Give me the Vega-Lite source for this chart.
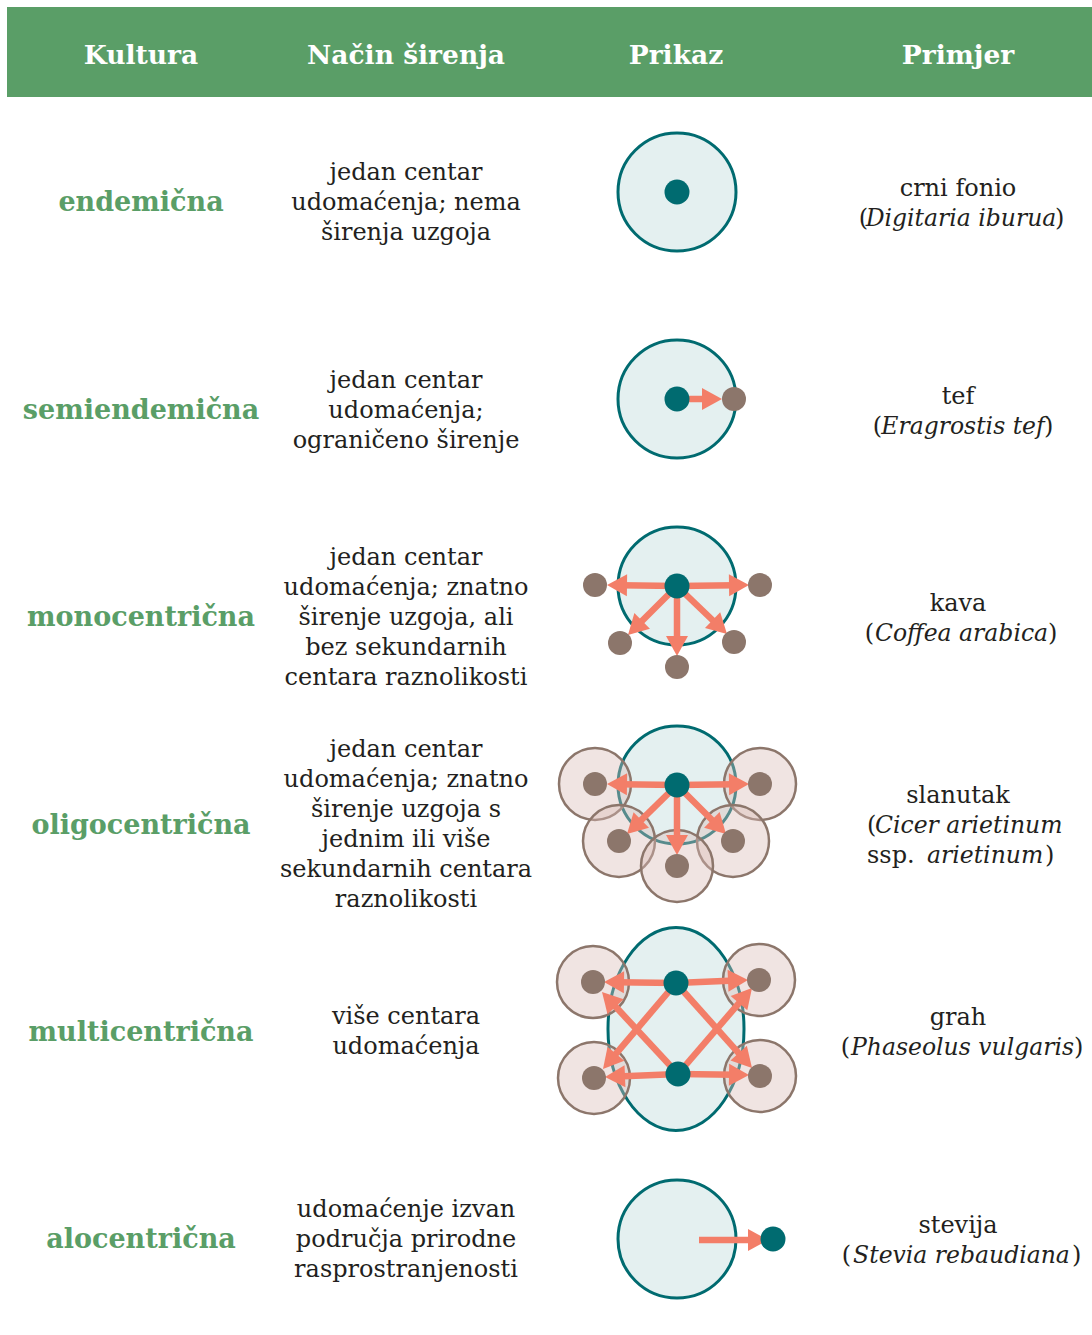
{
  "$schema": "https://vega.github.io/schema/vega-lite/v6.json",
  "width": 1092,
  "height": 1335,
  "autosize": {"type": "fit", "contains": "padding"},
  "padding": 0,
  "background": "white",
  "config": {"view": {"stroke": null}},
  "datasets": {
    "nodes": [
      {"role": "region", "x": 677, "y": 192},
      {"role": "region", "x": 677, "y": 399},
      {"role": "region", "x": 677, "y": 586},
      {"role": "region", "x": 677, "y": 785},
      {"role": "region", "x": 677, "y": 1239},
      {"role": "ellipse", "x": 676, "y": 1029},
      {"role": "halo", "x": 595, "y": 784},
      {"role": "halo", "x": 760, "y": 784},
      {"role": "halo", "x": 619, "y": 841},
      {"role": "halo", "x": 733, "y": 841},
      {"role": "halo", "x": 677, "y": 866},
      {"role": "halo", "x": 593, "y": 982},
      {"role": "halo", "x": 759, "y": 980},
      {"role": "halo", "x": 594, "y": 1078},
      {"role": "halo", "x": 760, "y": 1076},
      {"role": "teal", "x": 677, "y": 192},
      {"role": "teal", "x": 677, "y": 399},
      {"role": "teal", "x": 677, "y": 586},
      {"role": "teal", "x": 677, "y": 785},
      {"role": "teal", "x": 676, "y": 983},
      {"role": "teal", "x": 678, "y": 1074},
      {"role": "teal", "x": 773, "y": 1239},
      {"role": "brown", "x": 734, "y": 399},
      {"role": "brown", "x": 595, "y": 585},
      {"role": "brown", "x": 760, "y": 585},
      {"role": "brown", "x": 620, "y": 643},
      {"role": "brown", "x": 734, "y": 642},
      {"role": "brown", "x": 677, "y": 667},
      {"role": "brown", "x": 595, "y": 784},
      {"role": "brown", "x": 760, "y": 784},
      {"role": "brown", "x": 619, "y": 841},
      {"role": "brown", "x": 733, "y": 841},
      {"role": "brown", "x": 677, "y": 866},
      {"role": "brown", "x": 593, "y": 982},
      {"role": "brown", "x": 759, "y": 980},
      {"role": "brown", "x": 594, "y": 1078},
      {"role": "brown", "x": 760, "y": 1076}
    ],
    "arrows": [
      {"x": 677, "y": 399, "tx": 722, "ty": 399},
      {"x": 677, "y": 586, "tx": 607, "ty": 585},
      {"x": 677, "y": 586, "tx": 749, "ty": 585},
      {"x": 677, "y": 586, "tx": 628, "ty": 635},
      {"x": 677, "y": 586, "tx": 727, "ty": 634},
      {"x": 677, "y": 586, "tx": 677, "ty": 656},
      {"x": 677, "y": 785, "tx": 607, "ty": 784},
      {"x": 677, "y": 785, "tx": 749, "ty": 784},
      {"x": 677, "y": 785, "tx": 627, "ty": 834},
      {"x": 677, "y": 785, "tx": 726, "ty": 834},
      {"x": 677, "y": 785, "tx": 677, "ty": 855},
      {"x": 676, "y": 983, "tx": 604, "ty": 982},
      {"x": 676, "y": 983, "tx": 748, "ty": 980},
      {"x": 676, "y": 983, "tx": 603, "ty": 1069},
      {"x": 676, "y": 983, "tx": 752, "ty": 1068},
      {"x": 678, "y": 1074, "tx": 605, "ty": 1077},
      {"x": 678, "y": 1074, "tx": 749, "ty": 1075},
      {"x": 678, "y": 1074, "tx": 602, "ty": 992},
      {"x": 678, "y": 1074, "tx": 752, "ty": 988},
      {"x": 699, "y": 1240, "tx": 768, "ty": 1240}
    ],
    "texts": [
      {"role": "head", "x": 141, "y": 56, "t": "Kultura"},
      {"role": "head", "x": 406, "y": 56, "t": "Način širenja"},
      {"role": "head", "x": 676, "y": 56, "t": "Prikaz"},
      {"role": "head", "x": 958, "y": 56, "t": "Primjer"},
      {"role": "label", "x": 141, "y": 203, "t": "endemična"},
      {"role": "label", "x": 141, "y": 411, "t": "semiendemična"},
      {"role": "label", "x": 141, "y": 618, "t": "monocentrična"},
      {"role": "label", "x": 141, "y": 826, "t": "oligocentrična"},
      {"role": "label", "x": 141, "y": 1033, "t": "multicentrična"},
      {"role": "label", "x": 141, "y": 1240, "t": "alocentrična"},
      {"role": "desc", "x": 406, "y": 173, "t": "jedan centar\nudomaćenja; nema\nširenja uzgoja"},
      {"role": "desc", "x": 406, "y": 381, "t": "jedan centar\nudomaćenja;\nograničeno širenje"},
      {"role": "desc", "x": 406, "y": 558, "t": "jedan centar\nudomaćenja; znatno\nširenje uzgoja, ali\nbez sekundarnih\ncentara raznolikosti"},
      {"role": "desc", "x": 406, "y": 750, "t": "jedan centar\nudomaćenja; znatno\nširenje uzgoja s\njednim ili više\nsekundarnih centara\nraznolikosti"},
      {"role": "desc", "x": 406, "y": 1017, "t": "više centara\nudomaćenja"},
      {"role": "desc", "x": 406, "y": 1210, "t": "udomaćenje izvan\npodručja prirodne\nrasprostranjenosti"},
      {"role": "ex", "x": 958, "y": 189, "t": "crni fonio"},
      {"role": "ex", "x": 958, "y": 397, "t": "tef"},
      {"role": "ex", "x": 958, "y": 604, "t": "kava"},
      {"role": "ex", "x": 958, "y": 796, "t": "slanutak"},
      {"role": "ex", "x": 958, "y": 1018, "t": "grah"},
      {"role": "ex", "x": 958, "y": 1226, "t": "stevija"},
      {"role": "it", "x": 961, "y": 219, "t": "Digitaria iburua"},
      {"role": "it", "x": 963, "y": 427, "t": "Eragrostis tef"},
      {"role": "it", "x": 961.5, "y": 634, "t": "Coffea arabica"},
      {"role": "it", "x": 962.5, "y": 1048, "t": "Phaseolus vulgaris"},
      {"role": "it", "x": 961.5, "y": 1256, "t": "Stevia rebaudiana"},
      {"role": "itl", "x": 875, "y": 826, "t": "Cicer arietinum"},
      {"role": "itl", "x": 927, "y": 856, "t": "arietinum"},
      {"role": "exl", "x": 867, "y": 856, "t": "ssp."},
      {"role": "exl", "x": 867, "y": 826, "t": "("},
      {"role": "lp", "x": 868, "y": 219, "t": "("},
      {"role": "rp", "x": 1055, "y": 219, "t": ")"},
      {"role": "lp", "x": 882, "y": 427, "t": "("},
      {"role": "rp", "x": 1044, "y": 427, "t": ")"},
      {"role": "lp", "x": 874, "y": 634, "t": "("},
      {"role": "rp", "x": 1048, "y": 634, "t": ")"},
      {"role": "rp", "x": 1045, "y": 856, "t": ")"},
      {"role": "lp", "x": 850, "y": 1048, "t": "("},
      {"role": "rp", "x": 1074, "y": 1048, "t": ")"},
      {"role": "lp", "x": 851, "y": 1256, "t": "("},
      {"role": "rp", "x": 1072, "y": 1256, "t": ")"}
    ]
  },
  "encoding": {
    "x": {"field": "x", "type": "quantitative", "scale": {"domain": [0, 1092], "nice": false, "zero": false}, "axis": null},
    "y": {"field": "y", "type": "quantitative", "scale": {"domain": [0, 1335], "nice": false, "zero": false, "reverse": true}, "axis": null}
  },
  "layer": [
    {
      "data": {"values": [{"x": 7, "x2": 1092, "y": 7, "y2": 97}]},
      "mark": {"type": "rect", "color": "#5a9e67"},
      "encoding": {"x2": {"field": "x2"}, "y2": {"field": "y2"}}
    },
    {
      "data": {"name": "nodes"},
      "transform": [{"filter": "datum.role == 'region'"}],
      "mark": {"type": "point", "shape": "circle", "size": 13924, "filled": true, "fill": "#e4f0f0", "stroke": "#006b70", "strokeWidth": 3, "opacity": 1}
    },
    {
      "data": {"name": "nodes"},
      "transform": [{"filter": "datum.role == 'ellipse'"}],
      "mark": {"type": "point", "shape": "M0,-1C0.3673,-1,0.67,-0.5523,0.67,0C0.67,0.5523,0.3673,1,0,1C-0.3673,1,-0.67,0.5523,-0.67,0C-0.67,-0.5523,-0.3673,-1,0,-1Z", "size": 41209, "filled": true, "fill": "#e4f0f0", "stroke": "#006b70", "strokeWidth": 3, "opacity": 1}
    },
    {
      "data": {"name": "nodes"},
      "transform": [{"filter": "datum.role == 'halo'"}],
      "mark": {"type": "point", "shape": "circle", "size": 5184, "filled": true, "fill": "#d9bbb6", "fillOpacity": 0.4, "stroke": "#8c766b", "strokeWidth": 2.5, "strokeOpacity": 1}
    },
    {
      "data": {"name": "arrows"},
      "transform": [
        {"calculate": "sqrt(pow(datum.tx - datum.x, 2) + pow(datum.ty - datum.y, 2))", "as": "len"},
        {"calculate": "datum.tx - 13 * (datum.tx - datum.x) / datum.len", "as": "ex"},
        {"calculate": "datum.ty - 13 * (datum.ty - datum.y) / datum.len", "as": "ey"}
      ],
      "mark": {"type": "rule", "color": "#f37e68", "strokeWidth": 6.5, "strokeCap": "butt"},
      "encoding": {"x2": {"field": "ex"}, "y2": {"field": "ey"}}
    },
    {
      "data": {"name": "arrows"},
      "transform": [
        {"calculate": "atan2(datum.tx - datum.x, -(datum.ty - datum.y)) * 180 / PI", "as": "ang"}
      ],
      "mark": {"type": "point", "shape": "M0,0L0.55,1L-0.55,1Z", "size": 1600, "filled": true, "color": "#f37e68", "opacity": 1},
      "encoding": {
        "x": {"field": "tx", "type": "quantitative"},
        "y": {"field": "ty", "type": "quantitative"},
        "angle": {"field": "ang", "type": "quantitative", "scale": null}
      }
    },
    {
      "data": {"name": "nodes"},
      "transform": [{"filter": "datum.role == 'teal'"}],
      "mark": {"type": "point", "shape": "circle", "size": 625, "filled": true, "color": "#006b70", "opacity": 1}
    },
    {
      "data": {"name": "nodes"},
      "transform": [{"filter": "datum.role == 'brown'"}],
      "mark": {"type": "point", "shape": "circle", "size": 576, "filled": true, "color": "#8c766b", "opacity": 1}
    },
    {
      "data": {"name": "texts"},
      "transform": [{"filter": "datum.role == 'head'"}],
      "mark": {"type": "text", "font": "DejaVu Serif", "fontWeight": "bold", "fontSize": 26.5, "color": "white", "align": "center", "baseline": "middle"},
      "encoding": {"text": {"field": "t"}}
    },
    {
      "data": {"name": "texts"},
      "transform": [{"filter": "datum.role == 'label'"}],
      "mark": {"type": "text", "font": "DejaVu Serif", "fontWeight": "bold", "fontSize": 27, "color": "#5a9e67", "align": "center", "baseline": "middle"},
      "encoding": {"text": {"field": "t"}}
    },
    {
      "data": {"name": "texts"},
      "transform": [{"filter": "datum.role == 'desc'"}],
      "mark": {"type": "text", "font": "DejaVu Serif", "fontSize": 24, "lineHeight": 30, "lineBreak": "\n", "color": "#231f20", "align": "center", "baseline": "middle"},
      "encoding": {"text": {"field": "t"}}
    },
    {
      "data": {"name": "texts"},
      "transform": [{"filter": "datum.role == 'ex'"}],
      "mark": {"type": "text", "font": "DejaVu Serif", "fontSize": 24, "color": "#231f20", "align": "center", "baseline": "middle"},
      "encoding": {"text": {"field": "t"}}
    },
    {
      "data": {"name": "texts"},
      "transform": [{"filter": "datum.role == 'exl'"}],
      "mark": {"type": "text", "font": "DejaVu Serif", "fontSize": 24, "color": "#231f20", "align": "left", "baseline": "middle"},
      "encoding": {"text": {"field": "t"}}
    },
    {
      "data": {"name": "texts"},
      "transform": [{"filter": "datum.role == 'it'"}],
      "mark": {"type": "text", "font": "DejaVu Serif", "fontStyle": "italic", "fontSize": 23.5, "color": "#231f20", "align": "center", "baseline": "middle"},
      "encoding": {"text": {"field": "t"}}
    },
    {
      "data": {"name": "texts"},
      "transform": [{"filter": "datum.role == 'itl'"}],
      "mark": {"type": "text", "font": "DejaVu Serif", "fontStyle": "italic", "fontSize": 23.5, "color": "#231f20", "align": "left", "baseline": "middle"},
      "encoding": {"text": {"field": "t"}}
    },
    {
      "data": {"name": "texts"},
      "transform": [{"filter": "datum.role == 'lp'"}],
      "mark": {"type": "text", "font": "DejaVu Serif", "fontSize": 24, "color": "#231f20", "align": "right", "baseline": "middle"},
      "encoding": {"text": {"field": "t"}}
    },
    {
      "data": {"name": "texts"},
      "transform": [{"filter": "datum.role == 'rp'"}],
      "mark": {"type": "text", "font": "DejaVu Serif", "fontSize": 24, "color": "#231f20", "align": "left", "baseline": "middle"},
      "encoding": {"text": {"field": "t"}}
    }
  ]
}
